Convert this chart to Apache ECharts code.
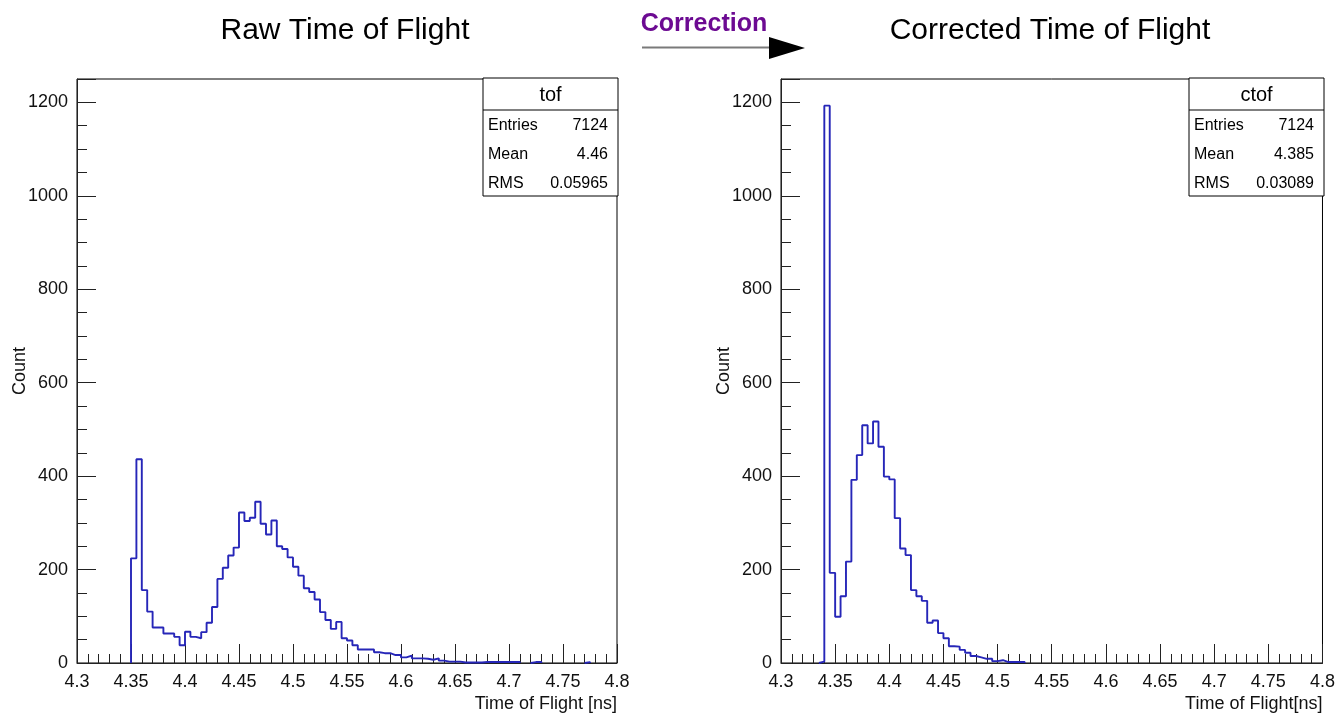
<!DOCTYPE html>
<html>
<head>
<meta charset="utf-8">
<title>Time of Flight</title>
<script src="https://cdn.jsdelivr.net/npm/echarts@6/dist/echarts.min.js"></script>
<style>
  html, body { margin: 0; padding: 0; background: #fff; }
  #chart { width: 1338px; height: 714px; }
</style>
</head>
<body>
<div id="chart"></div>
<script>
// Histogram binning: 100 bins of 0.005 ns from 4.3 ns
const BIN_LO = 4.3;
const BIN_W = 0.005;

// Raw time of flight, counts per bin (bins 0..99)
const rawCounts = [
  0, 0, 0, 0, 0, 0, 0, 0, 0, 0,
  224, 436, 156, 110, 76, 76, 63, 63, 56, 38,
  67, 56, 53, 66, 86, 120, 180, 204, 230, 247,
  322, 304, 311, 345, 298, 275, 305, 250, 244, 226,
  206, 187, 160, 152, 136, 109, 92, 73, 88, 53,
  48, 38, 29, 29, 29, 23, 21, 21, 17, 17,
  12, 16, 10, 10, 9, 7, 10, 5, 3, 3,
  3, 1, 1, 1, 1, 2, 2, 2, 2, 2,
  2, 2, 0, 0, 2, 2, 0, 0, 0, 0,
  0, 0, 0, 0, 2, 0, 0, 0, 0, 0
];

// Corrected time of flight, counts per bin (bins 0..99)
const corrCounts = [
  0, 0, 0, 0, 0, 0, 0, 3, 1193, 193,
  99, 143, 217, 392, 445, 509, 470, 517, 463, 399,
  393, 310, 245, 231, 156, 143, 133, 86, 91, 64,
  53, 36, 35, 28, 22, 15, 12, 9, 9, 4,
  6, 2, 2, 2, 2, 0, 0, 0, 0, 0,
  0, 0, 0, 0, 0, 0, 0, 0, 0, 0,
  0, 0, 0, 0, 0, 0, 0, 0, 0, 0,
  0, 0, 0, 0, 0, 0, 0, 0, 0, 0,
  0, 0, 0, 0, 0, 0, 0, 0, 0, 0,
  0, 0, 0, 0, 0, 0, 0, 0, 0, 0
];

// Statistics boxes
const rawStats = { name: 'tof', rows: [['Entries', '7124'], ['Mean', '4.46'], ['RMS', '0.05965']] };
const corrStats = { name: 'ctof', rows: [['Entries', '7124'], ['Mean', '4.385'], ['RMS', '0.03089']] };

// Axis ranges
const X_MIN = 4.3, X_MAX = 4.8, X_STEP = 0.05;
const Y_MIN = 0, Y_MAX = 1250, Y_STEP = 200;

// Step outline of the histogram: each run of non-empty bins is drawn
// from the baseline up, across its bins and back down; empty bins leave a gap.
function histPoints(counts) {
  const edge = i => +(BIN_LO + i * BIN_W).toFixed(4);
  const pts = [];
  let i = 0;
  while (i < counts.length) {
    if (counts[i] === 0) { i++; continue; }
    const start = i;
    pts.push([edge(start), 0]);
    while (i < counts.length && counts[i] !== 0) {
      pts.push([edge(i), counts[i]]);
      i++;
    }
    pts.push([edge(i), 0]);
    pts.push([edge(i), null]);
  }
  return pts;
}

const FONT = '"Liberation Sans", Arial, Helvetica, sans-serif';
const AXIS_COLOR = '#222';
const HIST_COLOR = '#2626b8';

const GRID_TOP = 79, GRID_BOTTOM = 51;
const grids = [
  { left: 77, right: 721, top: GRID_TOP, bottom: GRID_BOTTOM },
  { left: 781, right: 15, top: GRID_TOP, bottom: GRID_BOTTOM }
];

function xAxisFor(idx, name) {
  return {
    type: 'value', gridIndex: idx,
    min: X_MIN, max: X_MAX, interval: X_STEP,
    name: name, nameLocation: 'end', nameGap: 0,
    nameTextStyle: { fontFamily: FONT, fontSize: 18, color: '#111', align: 'right', verticalAlign: 'top', padding: [32, 0, 0, 0] },
    axisLine: { show: true, lineStyle: { color: AXIS_COLOR, width: 1 } },
    axisTick: { show: true, inside: true, length: 19, lineStyle: { color: AXIS_COLOR } },
    minorTick: { show: true, splitNumber: 5, length: 9, lineStyle: { color: AXIS_COLOR } },
    axisLabel: { fontFamily: FONT, fontSize: 18, color: '#111', margin: 10,
      formatter: v => String(+v.toFixed(2)) },
    splitLine: { show: false }
  };
}

function yAxisFor(idx) {
  return {
    type: 'value', gridIndex: idx,
    min: Y_MIN, max: Y_MAX, interval: Y_STEP,
    name: 'Count', nameLocation: 'middle', nameGap: 48, nameMoveOverlap: false,
    nameTextStyle: { fontFamily: FONT, fontSize: 18, color: '#111' },
    axisLine: { show: true, lineStyle: { color: AXIS_COLOR, width: 1 } },
    axisTick: { show: true, inside: true, length: 19, lineStyle: { color: AXIS_COLOR } },
    minorTick: { show: true, splitNumber: 4, length: 10, lineStyle: { color: AXIS_COLOR } },
    axisLabel: { fontFamily: FONT, fontSize: 18, color: '#111', margin: 9, showMaxLabel: false,
      formatter: v => String(v) },
    splitLine: { show: false }
  };
}

function statsBox(stats, right) {
  const w = 135, top = 78, head = 32, rowH = 29;
  const x = right - w;
  const els = [
    { type: 'rect', shape: { x: x, y: top, width: w, height: head + rowH * 3 - 1 },
      style: { fill: '#fff', stroke: '#000', lineWidth: 1 }, z: 10 },
    { type: 'line', shape: { x1: x, y1: top + head, x2: right, y2: top + head },
      style: { stroke: '#000', lineWidth: 1 }, z: 11 },
    { type: 'text', x: x + w / 2, y: top + head / 2 + 1, z: 11,
      style: { text: stats.name, font: '20px ' + FONT, fill: '#000', align: 'center', verticalAlign: 'middle' } }
  ];
  stats.rows.forEach((r, i) => {
    const cy = top + head + 16 + i * rowH;
    els.push({ type: 'text', x: x + 5, y: cy, z: 11,
      style: { text: r[0], font: '16px ' + FONT, fill: '#000', align: 'left', verticalAlign: 'middle' } });
    els.push({ type: 'text', x: right - 10, y: cy, z: 11,
      style: { text: r[1], font: '16px ' + FONT, fill: '#000', align: 'right', verticalAlign: 'middle' } });
  });
  return els;
}

const chart = echarts.init(document.getElementById('chart'), null, { renderer: 'canvas' });

const option = {
  animation: false,
  backgroundColor: '#fff',
  grid: grids.map(g => Object.assign({ show: true, borderColor: '#000', borderWidth: 1, backgroundColor: 'transparent' }, g)),
  xAxis: [xAxisFor(0, 'Time of Flight [ns]'), xAxisFor(1, 'Time of Flight[ns]')],
  yAxis: [yAxisFor(0), yAxisFor(1)],
  series: [
    { name: 'tof', type: 'line', xAxisIndex: 0, yAxisIndex: 0, step: 'end',
      data: histPoints(rawCounts), showSymbol: false, symbol: 'none', connectNulls: false,
      lineStyle: { color: HIST_COLOR, width: 1.9 }, z: 5 },
    { name: 'ctof', type: 'line', xAxisIndex: 1, yAxisIndex: 1, step: 'end',
      data: histPoints(corrCounts), showSymbol: false, symbol: 'none', connectNulls: false,
      lineStyle: { color: HIST_COLOR, width: 1.9 }, z: 5 }
  ],
  graphic: [
    { type: 'text', x: 345, y: 31,
      style: { text: 'Raw Time of Flight', font: '30px ' + FONT, fill: '#000', align: 'center', verticalAlign: 'middle' } },
    { type: 'text', x: 1050, y: 31,
      style: { text: 'Corrected Time of Flight', font: '30px ' + FONT, fill: '#000', align: 'center', verticalAlign: 'middle' } },
    { type: 'text', x: 704, y: 24,
      style: { text: 'Correction', font: 'bold 25px ' + FONT, fill: '#6c0a92', align: 'center', verticalAlign: 'middle' } },
    { type: 'line', shape: { x1: 642, y1: 47.5, x2: 772, y2: 47.5 },
      style: { stroke: '#7a7a7a', lineWidth: 2 } },
    { type: 'polygon', shape: { points: [[769, 37], [805, 48], [769, 59]] },
      style: { fill: '#000' } }
  ].concat(statsBox(rawStats, 618), statsBox(corrStats, 1324))
};

chart.setOption(option);
</script>
</body>
</html>
